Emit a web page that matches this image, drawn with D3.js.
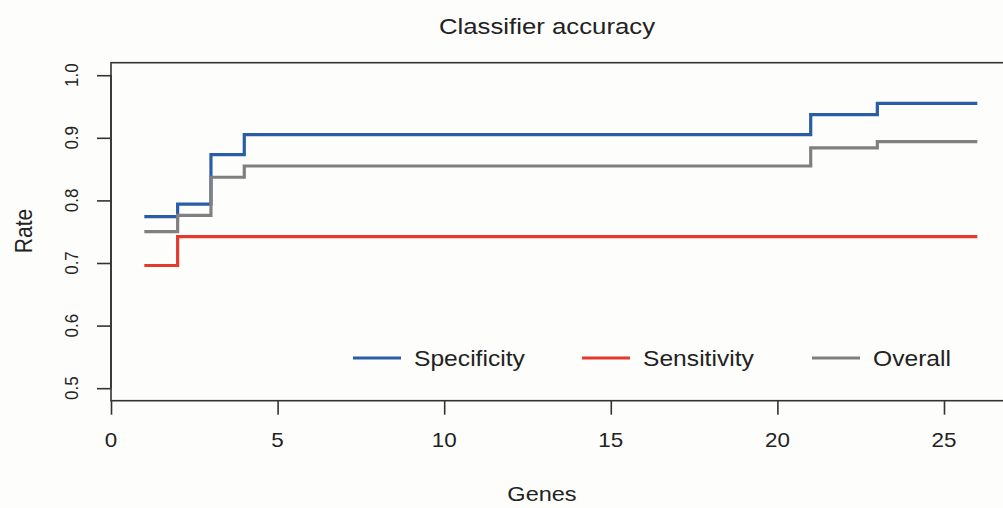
<!DOCTYPE html>
<html>
<head>
<meta charset="utf-8">
<script src="https://cdn.jsdelivr.net/npm/d3@7"></script>
<style>
  body { margin: 0; background: #fdfdfb; }
  svg { display: block; font-family: "Liberation Sans", Arial, sans-serif; }
</style>
</head>
<body>
<div id="chart"></div>
<script>
// Data (value at each gene count, drawn as steps)
const genes = d3.range(1, 27);
const specificity = [0.774, 0.794, 0.873, 0.905, 0.905, 0.905, 0.905, 0.905, 0.905, 0.905,
                     0.905, 0.905, 0.905, 0.905, 0.905, 0.905, 0.905, 0.905, 0.905, 0.905,
                     0.937, 0.937, 0.955, 0.955, 0.955, 0.955];
const sensitivity = [0.696, 0.742, 0.742, 0.742, 0.742, 0.742, 0.742, 0.742, 0.742, 0.742,
                     0.742, 0.742, 0.742, 0.742, 0.742, 0.742, 0.742, 0.742, 0.742, 0.742,
                     0.742, 0.742, 0.742, 0.742, 0.742, 0.742];
const overall = [0.750, 0.776, 0.837, 0.855, 0.855, 0.855, 0.855, 0.855, 0.855, 0.855,
                 0.855, 0.855, 0.855, 0.855, 0.855, 0.855, 0.855, 0.855, 0.855, 0.855,
                 0.884, 0.884, 0.894, 0.894, 0.894, 0.894];
const seriesNames = ['Specificity', 'Sensitivity', 'Overall'];
const seriesColors = ['#2b5ca8', '#e5392b', '#808080'];
const xTicks = [0, 5, 10, 15, 20, 25];
const yTicks = [0.5, 0.6, 0.7, 0.8, 0.9, 1.0];

// Dimensions
const width = 1003, height = 508;
const plot = { left: 111, right: 1010, top: 62.7, bottom: 400.7 };
const sx = 1.12; // text in the source is a little wider than tall

const svg = d3.select('#chart')
    .append('svg')
    .attr('width', width)
    .attr('height', height);

const xScale = d3.scaleLinear().domain([0, 26]).range([plot.left, 977.3]);
const yScale = d3.scaleLinear().domain([0.48, 1.02]).range([plot.bottom, plot.top]);

const addText = (x, y, str, size, rotate) => svg.append('text')
    .attr('transform', `translate(${x},${y}) rotate(${rotate || 0}) scale(${rotate ? 1 : sx},${rotate ? sx : 1})`)
    .attr('text-anchor', 'middle')
    .attr('dominant-baseline', 'central')
    .attr('font-size', size)
    .attr('fill', '#222')
    .text(str);

// Box around plot region
svg.append('rect')
    .attr('x', plot.left)
    .attr('y', plot.top)
    .attr('width', plot.right - plot.left)
    .attr('height', plot.bottom - plot.top)
    .attr('fill', 'none')
    .attr('stroke', '#333')
    .attr('stroke-width', 1.6);

// Axes
const xAxis = svg.append('g')
    .attr('transform', `translate(0, ${plot.bottom})`)
    .call(d3.axisBottom(xScale).tickValues(xTicks).tickSize(14).tickFormat(''));
const yAxis = svg.append('g')
    .attr('transform', `translate(${plot.left}, 0)`)
    .call(d3.axisLeft(yScale).tickValues(yTicks).tickSize(14).tickFormat(''));
[xAxis, yAxis].forEach(g => {
    g.select('.domain').remove();
    g.selectAll('line').attr('stroke', '#333').attr('stroke-width', 1.6);
});
// y axis line spans the tick range only
svg.append('line')
    .attr('x1', plot.left).attr('x2', plot.left)
    .attr('y1', yScale(0.5)).attr('y2', yScale(1.0))
    .attr('stroke', '#333').attr('stroke-width', 1.6);

xTicks.forEach(t => addText(xScale(t), 440, d3.format('d')(t), 20));
yTicks.forEach(t => addText(72, yScale(t), d3.format('.1f')(t), 17, -90));

// Titles
addText(547, 26, 'Classifier accuracy', 23);
addText(542, 494, 'Genes', 21);
addText(24, 231, 'Rate', 21, -90);

// Step lines
const line = d3.line()
    .x((d, i) => xScale(genes[i]))
    .y(d => yScale(d))
    .curve(d3.curveStepAfter);

[specificity, sensitivity, overall].forEach((values, i) => {
    svg.append('path')
        .datum(values)
        .attr('d', line)
        .attr('fill', 'none')
        .attr('stroke', seriesColors[i])
        .attr('stroke-width', 3.2)
        .attr('stroke-linejoin', 'miter');
});

// Legend
const legendX = [353, 582, 812];
seriesNames.forEach((name, i) => {
    svg.append('line')
        .attr('x1', legendX[i]).attr('x2', legendX[i] + 48)
        .attr('y1', 358).attr('y2', 358)
        .attr('stroke', seriesColors[i])
        .attr('stroke-width', 3.2);
    svg.append('text')
        .attr('transform', `translate(${legendX[i] + 61},358) scale(${sx},1)`)
        .attr('dominant-baseline', 'central')
        .attr('font-size', 22)
        .attr('fill', '#222')
        .text(name);
});
</script>
</body>
</html>
